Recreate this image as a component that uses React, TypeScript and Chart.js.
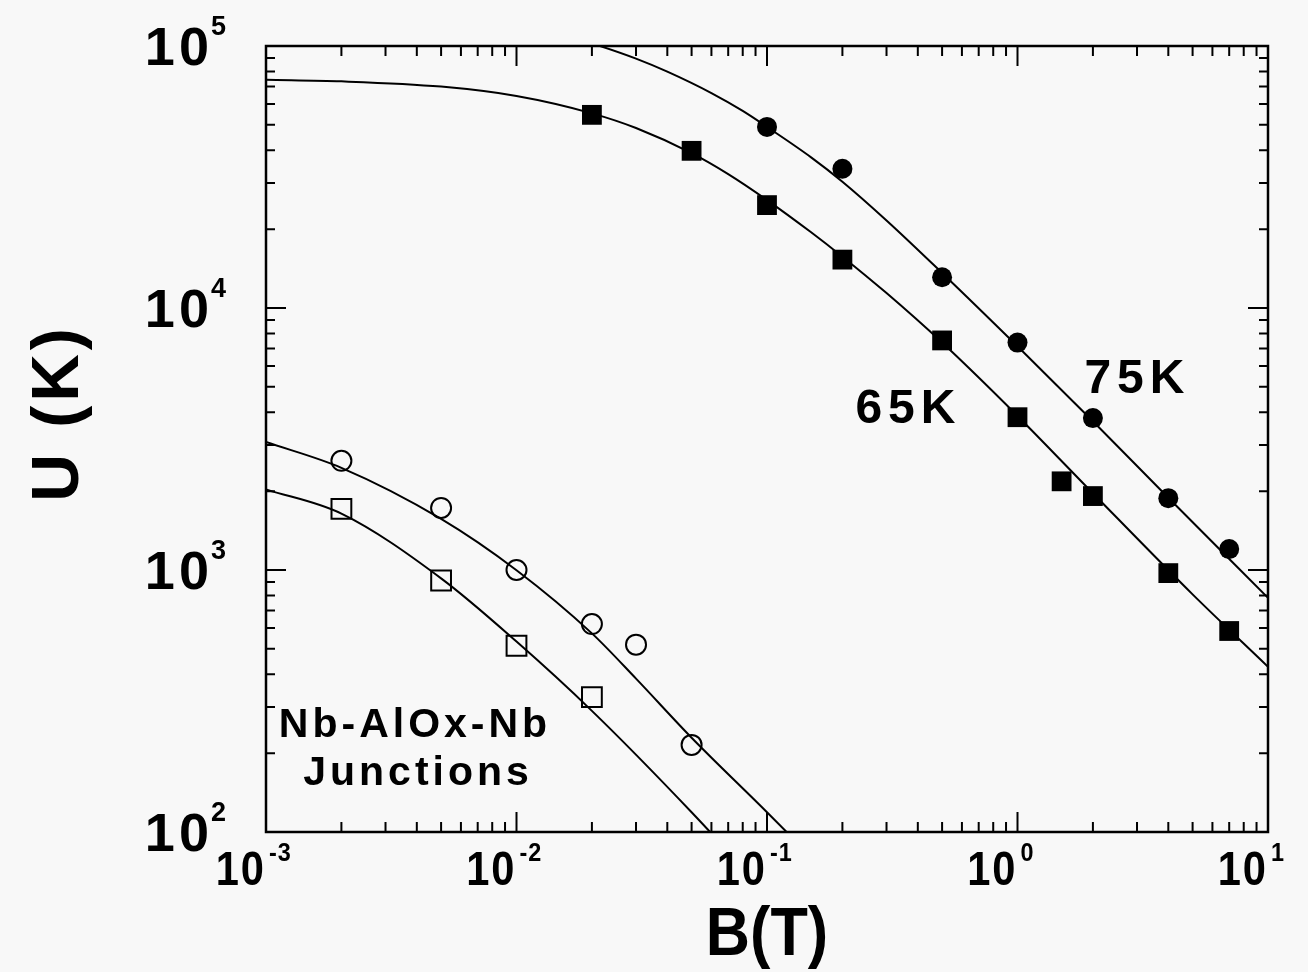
import React, { useEffect, useRef } from "react";
import { Chart, registerables } from "chart.js";

Chart.register(...registerables);

// ---------- data ----------
// 65 K (filled squares)
const b65 = [0.02, 0.05, 0.1, 0.2, 0.5, 1, 1.5, 2, 4, 7];
const u65 = [54600, 39800, 24700, 15300, 7520, 3830, 2180, 1915, 973, 585];
// 75 K (filled circles)
const b75 = [0.1, 0.2, 0.5, 1, 2, 4, 7];
const u75 = [49100, 34000, 13100, 7380, 3800, 1880, 1202];
// Nb-AlOx-Nb junctions, open circles
const bJc = [0.002, 0.005, 0.01, 0.02, 0.03, 0.05];
const uJc = [2610, 1725, 1000, 622, 519, 215];
// Nb-AlOx-Nb junctions, open squares
const bJs = [0.002, 0.005, 0.01, 0.02];
const uJs = [1710, 912, 514, 327];

// fitted curves
const fitB65 = [0.001, 0.002, 0.005, 0.01, 0.02, 0.03, 0.05, 0.07, 0.1, 0.15, 0.2, 0.3, 0.5, 1, 2, 5, 10];
const fitU65 = [74300, 73280, 69980, 64420, 55330, 48640, 38990, 32430, 25820, 19450, 15700, 11400, 7380, 3873, 1963, 807, 427];
const fitB75 = [0.015, 0.02, 0.03, 0.04, 0.06, 0.08, 0.1, 0.15, 0.2, 0.3, 0.5, 1, 2, 4, 10];
const fitU75 = [110900, 102300, 89500, 79800, 66100, 56500, 49100, 37580, 30340, 21580, 13610, 7145, 3698, 1888, 783];
const fitBJc = [0.001, 0.002, 0.005, 0.01, 0.02, 0.03, 0.05, 0.1, 0.2];
const fitUJc = [3080, 2455, 1567, 998, 573, 385, 229, 119, 61];
const fitBJs = [0.001, 0.002, 0.005, 0.01, 0.02, 0.05, 0.1];
const fitUJs = [2030, 1641, 929, 533, 290, 119, 58];

// axes
const xTickValues = [0.001, 0.01, 0.1, 1, 10];
const xTickExponents = ["-3", "-2", "-1", "0", "1"];
const yTickValues = [100, 1000, 10000, 100000];
const yTickExponents = ["2", "3", "4", "5"];
const xTitle = "B(T)";
const yTitle = "U (K)";
const label65 = "65K";
const label75 = "75K";
const junctionLines = ["Nb-AlOx-Nb", "Junctions"];

const FONT = "'Liberation Sans', Arial, Helvetica, sans-serif";
const INK = "#000000";
const PAPER = "#f8f8f8";

function toPts(xs: number[], ys: number[]) {
  return xs.map((x, i) => ({ x, y: ys[i] }));
}

function drawSpaced(
  ctx: CanvasRenderingContext2D,
  text: string,
  x: number,
  y: number,
  spacing: number,
  align: "left" | "center" | "right",
  sx = 1
) {
  const chars = Array.from(text);
  const widths = chars.map((c) => ctx.measureText(c).width * sx);
  const total = widths.reduce((a, b) => a + b, 0) + spacing * (chars.length - 1);
  let cx = align === "left" ? x : align === "center" ? x - total / 2 : x - total;
  ctx.save();
  ctx.textAlign = "left";
  chars.forEach((c, i) => {
    ctx.save();
    ctx.translate(cx, y);
    ctx.scale(sx, 1);
    ctx.fillText(c, 0, 0);
    ctx.restore();
    cx += widths[i] + spacing;
  });
  ctx.restore();
}

const paperPlugin = {
  id: "paperPlugin",
  beforeDraw(chart: any) {
    const { ctx, width, height } = chart;
    ctx.save();
    ctx.fillStyle = PAPER;
    ctx.fillRect(0, 0, width, height);
    ctx.restore();
  },
  afterDraw(chart: any) {
    const { ctx, chartArea } = chart;
    const { left, right, top, bottom } = chartArea;
    const xs = chart.scales.x;
    const ys = chart.scales.y;
    ctx.save();
    ctx.strokeStyle = INK;
    ctx.fillStyle = INK;
    ctx.lineCap = "butt";

    // frame
    ctx.lineWidth = 2.5;
    ctx.strokeRect(left, top, right - left, bottom - top);

    // ticks (inward, on all four sides)
    ctx.lineWidth = 2;
    ctx.beginPath();
    xTickValues.forEach((d, i) => {
      for (let m = 1; m <= 9; m++) {
        if (i === xTickValues.length - 1 && m > 1) break;
        const px = xs.getPixelForValue(d * m);
        const len = m === 1 ? 20 : 10;
        ctx.moveTo(px, bottom);
        ctx.lineTo(px, bottom - len);
        ctx.moveTo(px, top);
        ctx.lineTo(px, top + len);
      }
    });
    yTickValues.forEach((d, i) => {
      for (let m = 1; m <= 9; m++) {
        if (i === yTickValues.length - 1 && m > 1) break;
        const py = ys.getPixelForValue(d * m);
        const len = m === 1 ? 20 : 9;
        ctx.moveTo(left, py);
        ctx.lineTo(left + len, py);
        ctx.moveTo(right, py);
        ctx.lineTo(right - len, py);
      }
    });
    ctx.stroke();

    // x tick labels 10^n
    ctx.textBaseline = "alphabetic";
    xTickValues.forEach((v, i) => {
      const px = xs.getPixelForValue(v);
      ctx.font = `bold 49px ${FONT}`;
      drawSpaced(ctx, "10", px - 2, bottom + 53, 2, "right", 0.85);
      ctx.font = `bold 26px ${FONT}`;
      drawSpaced(ctx, xTickExponents[i], px + 3, bottom + 29, 1, "left", 0.9);
    });

    // y tick labels 10^n
    yTickValues.forEach((v, i) => {
      const py = ys.getPixelForValue(v);
      ctx.font = `bold 53px ${FONT}`;
      drawSpaced(ctx, "10", left - 57, py + 19, 4, "right", 1.02);
      ctx.font = `bold 27px ${FONT}`;
      drawSpaced(ctx, yTickExponents[i], left - 55, py - 11, 0, "left", 1);
    });

    // axis titles
    ctx.font = `bold 68px ${FONT}`;
    drawSpaced(ctx, xTitle, (left + right) / 2, bottom + 123, 0, "center", 0.9);
    ctx.save();
    ctx.translate(78, 415);
    ctx.rotate(-Math.PI / 2);
    ctx.font = `bold 66px ${FONT}`;
    drawSpaced(ctx, yTitle, 0, 0, 4, "center", 1);
    ctx.restore();

    // annotations
    ctx.font = `bold 48px ${FONT}`;
    drawSpaced(ctx, label65, xs.getPixelForValue(0.2) + 13, ys.getPixelForValue(3640), 6, "left", 1);
    drawSpaced(ctx, label75, xs.getPixelForValue(1.85), ys.getPixelForValue(4740), 6, "left", 1);
    ctx.font = `bold 41px ${FONT}`;
    drawSpaced(ctx, junctionLines[0], left + 147, ys.getPixelForValue(230), 4, "center", 1);
    drawSpaced(ctx, junctionLines[1], left + 150, ys.getPixelForValue(151), 4, "center", 1);

    ctx.restore();
  },
};

export default function App() {
  const canvasRef = useRef<HTMLCanvasElement | null>(null);

  useEffect(() => {
    document.body.style.margin = "0";
    document.body.style.background = PAPER;
    const canvas = canvasRef.current;
    if (!canvas) return;

    const lineDs = (label: string, xs: number[], ys: number[]) => ({
      type: "line" as const,
      label,
      data: toPts(xs, ys),
      borderColor: INK,
      borderWidth: 2,
      pointRadius: 0,
      fill: false,
      showLine: true,
      cubicInterpolationMode: "monotone" as const,
    });

    const chart = new Chart(canvas, {
      type: "scatter",
      data: {
        datasets: [
          lineDs("fit 65K", fitB65, fitU65),
          lineDs("fit 75K", fitB75, fitU75),
          lineDs("fit junction circles", fitBJc, fitUJc),
          lineDs("fit junction squares", fitBJs, fitUJs),
          {
            label: "65K",
            data: toPts(b65, u65),
            pointStyle: "rect",
            pointRadius: 14,
            backgroundColor: INK,
            borderColor: INK,
            borderWidth: 0,
          },
          {
            label: "75K",
            data: toPts(b75, u75),
            pointStyle: "circle",
            pointRadius: 10,
            backgroundColor: INK,
            borderColor: INK,
            borderWidth: 0,
          },
          {
            label: "Junction (circles)",
            data: toPts(bJc, uJc),
            pointStyle: "circle",
            pointRadius: 10,
            backgroundColor: PAPER,
            borderColor: INK,
            borderWidth: 2,
          },
          {
            label: "Junction (squares)",
            data: toPts(bJs, uJs),
            pointStyle: "rect",
            pointRadius: 14,
            backgroundColor: PAPER,
            borderColor: INK,
            borderWidth: 2,
          },
        ],
      },
      options: {
        animation: false,
        responsive: true,
        maintainAspectRatio: false,
        layout: { padding: { left: 266, right: 40, top: 46, bottom: 140 } },
        plugins: { legend: { display: false }, tooltip: { enabled: false } },
        scales: {
          x: { type: "logarithmic", min: 0.001, max: 10, display: false },
          y: { type: "logarithmic", min: 100, max: 100000, display: false },
        },
      },
      plugins: [paperPlugin],
    } as any);

    return () => chart.destroy();
  }, []);

  return (
    <div style={{ width: 1308, height: 972, position: "relative" }}>
      <canvas ref={canvasRef} />
    </div>
  );
}
